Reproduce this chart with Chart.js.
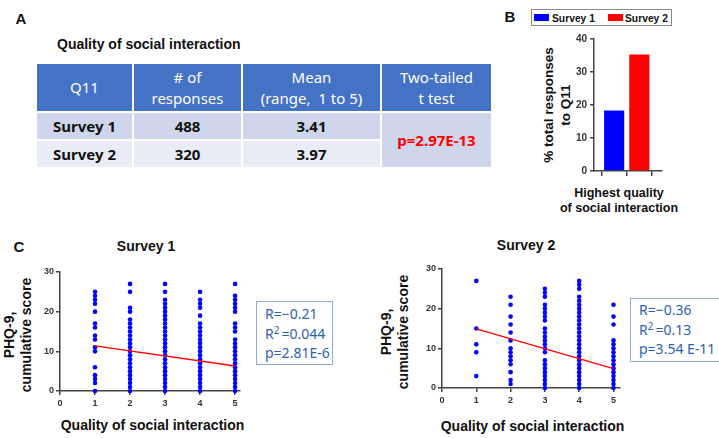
<!DOCTYPE html>
<html><head><meta charset="utf-8">
<script src="https://cdn.jsdelivr.net/npm/chart.js@4.4.0/dist/chart.umd.min.js"></script>
<style>
html,body{margin:0;padding:0;background:#fff;}
#fig{position:relative;width:719px;height:438px;overflow:hidden;font-family:"Liberation Sans",Arial,sans-serif;color:#111;}
.c{position:absolute;transform:translate(-50%,-50%);white-space:nowrap;text-align:center;}
.l{position:absolute;transform:translate(0,-50%);white-space:nowrap;}
.rot{position:absolute;transform:translate(-50%,-50%) rotate(-90deg);white-space:nowrap;text-align:center;font-weight:bold;}
.b{font-weight:bold;}
.panel{font-weight:bold;font-size:15px;line-height:15px;}
canvas{position:absolute;}
table{position:absolute;left:35px;top:62px;border-collapse:collapse;table-layout:fixed;width:456px;font-family:"Noto Sans","Open Sans",sans-serif;}
td,th{border:2px solid #fff;text-align:center;padding:0;}
th{background:#4472C4;color:#fff;font-weight:normal;font-size:15px;line-height:21px;height:47px;}
td{font-weight:bold;font-size:15px;color:#111;height:26px;}
tr.r1 td{background:#CFD5EA;}
tr.r2 td{background:#E9EBF5;}
td.pv{background:#CFD5EA !important;color:#FF0000;}
.stat{position:absolute;border:1px solid #8FAADC;font-family:"Noto Sans","Open Sans",sans-serif;font-size:14px;line-height:19.5px;color:#2F5FB0;box-sizing:border-box;padding-left:8px;white-space:nowrap;}
.stat sup{font-size:10px;vertical-align:5px;line-height:0;margin-right:2px;}
.legend{position:absolute;left:531px;top:9px;width:141px;height:17px;border:1px solid #888;box-sizing:border-box;background:#fff;}
.sw{position:absolute;top:4px;width:15px;height:7px;}
.lt{position:absolute;top:7.5px;transform:translate(0,-50%);font-weight:bold;font-size:10.3px;white-space:nowrap;}
</style></head>
<body>
<div id="fig">
  <div class="c panel" style="left:21px;top:17.5px;">A</div>
  <div class="l b" style="left:57px;top:43.5px;font-size:14px;">Quality of social interaction</div>
  <table id="tbl">
    <colgroup><col style="width:97px"><col style="width:109px"><col style="width:139px"><col style="width:111px"></colgroup>
    <thead><tr id="hdr"></tr></thead>
    <tbody id="tbody"></tbody>
  </table>

  <div class="c panel" style="left:510px;top:16px;">B</div>
  <div class="legend">
    <div class="sw" style="left:2px;background:#0000FF;"></div>
    <div class="lt" style="left:20px;" id="lg1"></div>
    <div class="sw" style="left:76px;background:#FF0000;"></div>
    <div class="lt" style="left:93px;" id="lg2"></div>
  </div>
  <div class="rot" style="left:556.5px;top:105px;font-size:13.5px;line-height:17px;">% total responses<br>to Q11</div>
  <canvas id="bar" width="92" height="151" style="left:574px;top:29px;"></canvas>
  <div class="c b" style="left:619px;top:200.5px;font-size:12.5px;line-height:15px;">Highest quality<br>of social interaction</div>

  <div class="c panel" style="left:19px;top:245.5px;">C</div>
  <div class="c b" style="left:146px;top:245.5px;font-size:14px;">Survey 1</div>
  <div class="rot" style="left:17.5px;top:335px;font-size:14px;line-height:17px;">PHQ-9,<br>cumulative score</div>
  <canvas id="sc1" width="215" height="145" style="left:30px;top:262px;"></canvas>
  <div class="c b" style="left:152.5px;top:425px;font-size:14px;">Quality of social interaction</div>
  <div class="stat" style="left:256px;top:301px;width:77px;height:64px;padding-top:2px;">R=&minus;0.21<br>R<sup>2</sup>=0.044<br>p=2.81E-6</div>

  <div class="c b" style="left:526px;top:245px;font-size:14px;">Survey 2</div>
  <div class="rot" style="left:395px;top:331.5px;font-size:14px;line-height:17px;">PHQ-9,<br>cumulative score</div>
  <canvas id="sc2" width="213" height="145" style="left:412px;top:259px;"></canvas>
  <div class="c b" style="left:532.5px;top:426px;font-size:14px;">Quality of social interaction</div>
  <div class="stat" style="left:630px;top:298px;width:130px;height:64px;padding-top:1px;">R=&minus;0.36<br>R<sup>2</sup>=0.13<br>p=3.54 E-11</div>
</div>
<script>
// ---- Panel A table data ----
const tableHeaders = ['Q11', '# of<br>responses', 'Mean<br>(range,&nbsp; 1 to 5)', 'Two-tailed<br>t test'];
const tableSurveys = ['Survey 1', 'Survey 2'];
const tableResponses = [488, 320];
const tableMeans = ['3.41', '3.97'];
const tablePValue = 'p=2.97E-13';

// ---- Panel B data ----
const surveyLabels = ['Survey 1', 'Survey 2'];
const barValues = [18.3, 35.3];
const barColors = ['#0000FF', '#FF0000'];

// ---- Panel C data (PHQ-9 scores per quality level 1..5) ----
const qualityLevels = [1, 2, 3, 4, 5];
const s1Q1 = [0,2,3,4,6,10,11,13,14,16,17,20,22,23,24,25];
const s1Q2 = [0,1,2,3,4,5,6,7,8,9,10,11,12,13,14,15,16,17,18,20,21,25,27];
const s1Q3 = [0,1,2,3,4,5,6,7,8,9,10,11,12,13,14,15,16,17,18,19,20,21,22,23,25,27];
const s1Q4 = [0,1,2,3,4,5,6,7,8,9,10,11,12,13,14,15,16,17,19,21,22,23,25];
const s1Q5 = [0,1,2,3,4,5,6,7,8,9,10,11,12,13,15,16,17,20,21,22,23,24,27];
const s1FitX = [1, 5];
const s1FitY = [11.4, 6.3];

const s2Q1 = [3,9,11,15,27];
const s2Q2 = [1,2,4,6,7,8,9,10,12,14,16,18,21,23];
const s2Q3 = [0,1,2,3,4,5,6,7,9,10,11,12,13,14,15,17,18,19,20,21,23,24,25];
const s2Q4 = [0,1,2,3,4,5,6,7,8,9,10,11,12,13,14,15,16,17,18,19,20,21,22,23,25,26,27];
const s2Q5 = [0,1,2,3,4,5,6,7,8,9,10,11,12,16,18,21];
const s2FitX = [1, 5];
const s2FitY = [14.9, 4.9];

const yTicksPHQ = [0, 10, 20, 30];
const yTicksBar = [0, 10, 20, 30, 40];

// ---- build table ----
document.getElementById('hdr').innerHTML = tableHeaders.map(h => '<th>' + h + '</th>').join('');
document.getElementById('tbody').innerHTML = tableSurveys.map((s, i) =>
  '<tr class="r' + (i + 1) + '"><td>' + s + '</td><td>' + tableResponses[i] + '</td><td>' + tableMeans[i] + '</td>' +
  (i === 0 ? '<td class="pv" rowspan="2">' + tablePValue + '</td>' : '') + '</tr>').join('');
document.getElementById('lg1').textContent = surveyLabels[0];
document.getElementById('lg2').textContent = surveyLabels[1];

// ---- chart helpers ----
const axisColor = '#444';
const tickFont = {family: '"Liberation Sans", Arial, sans-serif', size: 9, weight: 'bold'};
function axis(extra) {
  return Object.assign({
    border: {display: true, color: axisColor, width: 1.5},
    grid: {display: true, drawOnChartArea: false, drawTicks: true, tickLength: 4, color: axisColor, lineWidth: 1.5}
  }, extra);
}
const baseOpts = {
  responsive: false, animation: false, events: [],
  plugins: {legend: {display: false}, tooltip: {enabled: false}, title: {display: false}}
};

function scatter(id, cols, fitX, fitY, xMax) {
  const pts = [];
  cols.forEach((arr, i) => arr.forEach(v => pts.push({x: qualityLevels[i], y: v})));
  const fit = fitX.map((x, i) => ({x: x, y: fitY[i]}));
  new Chart(document.getElementById(id), {
    type: 'scatter',
    data: {datasets: [
      {data: fit, showLine: true, borderColor: '#FF0000', borderWidth: 1.3, pointRadius: 0, clip: false, order: 0},
      {data: pts, backgroundColor: '#0000FF', borderColor: '#0000FF', pointRadius: 2.3, pointBorderWidth: 0, clip: false, order: 1}
    ]},
    options: Object.assign({}, baseOpts, {
      layout: {padding: {top: 10, right: 5, left: 0, bottom: 0}},
      scales: {
        x: axis({type: 'linear', min: 0, max: xMax,
          ticks: {stepSize: 1, includeBounds: false, color: '#333', font: tickFont, padding: 3, maxRotation: 0},
          afterFit: s => { s.height = 16; }}),
        y: axis({type: 'linear', min: 0, max: 30,
          afterBuildTicks: s => { s.ticks = yTicksPHQ.map(v => ({value: v})); },
          ticks: {color: '#333', font: tickFont, padding: 2},
          afterFit: s => { s.width = 30; }})
      }
    })
  });
}
scatter('sc1', [s1Q1, s1Q2, s1Q3, s1Q4, s1Q5], s1FitX, s1FitY, 5.14);
scatter('sc2', [s2Q1, s2Q2, s2Q3, s2Q4, s2Q5], s2FitX, s2FitY, 5.19);

new Chart(document.getElementById('bar'), {
  type: 'bar',
  data: {datasets: surveyLabels.map((lab, i) => ({
    label: lab, data: [{x: i + 1, y: barValues[i]}], backgroundColor: barColors[i],
    grouped: false, categoryPercentage: 1, barPercentage: 0.8, borderWidth: 0
  }))},
  options: Object.assign({}, baseOpts, {
    layout: {padding: {top: 10, right: 4, left: 0, bottom: 0}},
    scales: {
      x: axis({type: 'linear', min: 0.2, max: 2.9, offset: false,
        grid: {display: true, drawOnChartArea: false, drawTicks: true, tickLength: 5, color: axisColor, lineWidth: 1.5},
        ticks: {stepSize: 1, includeBounds: false, callback: () => '', font: tickFont},
        afterFit: s => { s.height = 8; }}),
      y: axis({type: 'linear', min: 0, max: 40,
        afterBuildTicks: s => { s.ticks = yTicksBar.map(v => ({value: v})); },
        ticks: {color: '#333', font: {family: '"Liberation Sans", Arial, sans-serif', size: 10, weight: 'bold'}, padding: 3},
        afterFit: s => { s.width = 20; }})
    }
  })
});
</script>
</body></html>
